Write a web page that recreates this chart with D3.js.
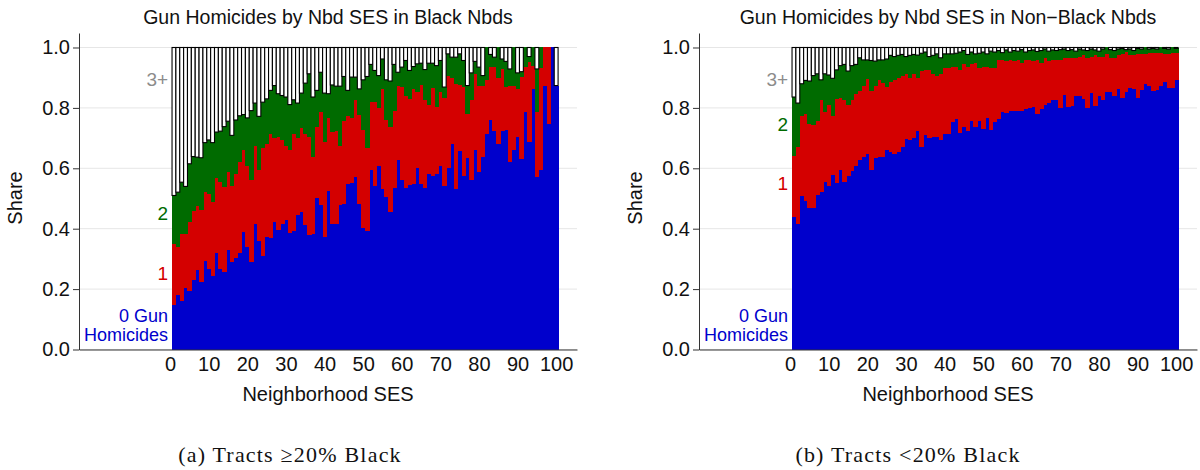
<!doctype html>
<html lang="en">
<head>
<meta charset="UTF-8">
<title>Gun Homicides by Nbd SES</title>
<script src="https://cdn.jsdelivr.net/npm/d3@7"></script>
<style>
  body { margin: 0; background: #fff; }
  svg text { font-family: "Liberation Sans", Arial, Helvetica, sans-serif; fill: #111; }
  .caption { font-family: "Liberation Serif", "DejaVu Serif", serif !important; letter-spacing: 1.2px; }
  .grid line { stroke: #e6e6e6; stroke-width: 1; }
</style>
</head>
<body>
<svg id="chart" width="1200" height="470"></svg>
<script>
// cumulative shares per SES bin (1..100)
// black nbds: share with 0 gun homicides, with <=1, with <=2
var blackZero = [0.146,0.179,0.162,0.204,0.193,0.231,0.264,0.223,0.292,0.267,0.244,0.321,0.268,0.257,0.328,0.291,0.304,0.321,0.390,0.341,0.290,0.417,0.360,0.309,0.372,
  0.370,0.421,0.396,0.414,0.429,0.385,0.391,0.445,0.456,0.411,0.379,0.382,0.500,0.478,0.372,0.526,0.415,0.415,0.478,0.483,0.549,0.552,0.570,0.482,0.403,0.392,
  0.593,0.541,0.608,0.530,0.504,0.455,0.534,0.626,0.562,0.536,0.546,0.549,0.602,0.549,0.534,0.582,0.576,0.582,0.606,0.543,0.602,0.679,0.531,0.656,0.574,
  0.635,0.562,0.661,0.589,0.637,0.714,0.760,0.725,0.681,0.725,0.727,0.620,0.661,0.705,0.630,0.788,0.687,0.863,0.571,0.596,0.871,0.747,1.000,0.874];
var blackUpTo1 = [0.348,0.341,0.383,0.383,0.422,0.460,0.474,0.462,0.521,0.515,0.488,0.568,0.554,0.538,0.587,0.543,0.582,0.620,0.659,0.606,0.560,0.674,0.593,0.668,0.679,
  0.712,0.701,0.703,0.694,0.674,0.662,0.712,0.701,0.732,0.712,0.705,0.637,0.738,0.788,0.687,0.766,0.720,0.722,0.674,0.758,0.774,0.766,0.825,0.778,0.728,0.668,
  0.819,0.821,0.800,0.863,0.760,0.738,0.791,0.874,0.869,0.838,0.830,0.863,0.852,0.877,0.825,0.808,0.865,0.802,0.852,0.833,0.904,0.898,0.880,0.877,0.869,
  0.780,0.827,0.913,0.874,0.874,0.891,0.935,0.935,0.900,0.929,0.869,0.871,0.871,0.863,0.902,0.935,0.951,0.940,0.786,0.933,1.000,1.000,1.000,0.874];
var blackUpTo2 = [0.510,0.521,0.554,0.540,0.615,0.639,0.637,0.635,0.685,0.694,0.685,0.720,0.723,0.738,0.756,0.709,0.760,0.774,0.778,0.767,0.791,0.816,0.772,0.819,0.830,
  0.858,0.874,0.847,0.841,0.836,0.811,0.827,0.816,0.849,0.882,0.913,0.836,0.858,0.918,0.849,0.847,0.876,0.872,0.872,0.904,0.858,0.902,0.902,0.863,0.893,0.904,
  0.944,0.924,0.907,0.962,0.893,0.889,0.944,0.918,0.935,0.957,0.924,0.937,0.946,0.948,0.927,0.948,0.948,0.940,0.957,0.869,0.979,0.968,0.968,0.979,0.957,
  0.874,0.916,0.954,0.935,0.907,1.000,0.977,0.968,1.000,0.962,0.954,0.929,1.000,0.916,0.920,1.000,0.970,1.000,0.929,1.000,1.000,1.000,1.000,0.874];

// non-black nbds
var otherZero = [0.438,0.416,0.507,0.493,0.469,0.469,0.510,0.521,0.554,0.540,0.579,0.551,0.593,0.556,0.576,0.590,0.606,0.628,0.639,0.648,0.595,0.635,0.637,0.639,0.659,
  0.653,0.648,0.653,0.672,0.698,0.694,0.700,0.722,0.670,0.709,0.701,0.705,0.703,0.695,0.714,0.712,0.753,0.764,0.716,0.738,0.723,0.758,0.738,0.755,0.731,0.767,
  0.727,0.753,0.762,0.788,0.783,0.789,0.791,0.791,0.789,0.797,0.799,0.802,0.780,0.797,0.808,0.816,0.825,0.825,0.799,0.844,0.802,0.805,0.841,0.838,0.830,0.799,
  0.849,0.805,0.838,0.827,0.854,0.854,0.841,0.863,0.832,0.852,0.866,0.863,0.833,0.860,0.880,0.871,0.855,0.858,0.871,0.887,0.866,0.865,0.894];
var otherUpTo1 = [0.642,0.672,0.772,0.780,0.747,0.745,0.758,0.825,0.786,0.811,0.773,0.830,0.833,0.825,0.808,0.827,0.847,0.855,0.871,0.895,0.855,0.874,0.891,0.882,0.869,
  0.885,0.893,0.900,0.907,0.913,0.900,0.913,0.900,0.921,0.924,0.926,0.913,0.907,0.911,0.933,0.933,0.937,0.935,0.926,0.944,0.935,0.946,0.948,0.933,0.937,0.935,
  0.933,0.933,0.959,0.957,0.955,0.959,0.955,0.959,0.948,0.959,0.957,0.955,0.957,0.948,0.966,0.955,0.959,0.957,0.957,0.966,0.966,0.966,0.966,0.968,0.974,0.966,
  0.970,0.974,0.968,0.970,0.977,0.966,0.966,0.974,0.979,0.985,0.974,0.974,0.977,0.979,0.979,0.981,0.981,0.981,0.981,0.979,0.979,0.981,0.981];
var otherUpTo2 = [0.836,0.816,0.880,0.891,0.889,0.907,0.913,0.893,0.913,0.909,0.898,0.926,0.940,0.944,0.922,0.940,0.944,0.966,0.959,0.959,0.957,0.955,0.959,0.959,0.962,
  0.974,0.970,0.974,0.977,0.970,0.974,0.977,0.975,0.981,0.985,0.970,0.974,0.979,0.966,0.979,0.979,0.979,0.981,0.985,0.990,0.977,0.985,0.979,0.981,0.985,0.979,
  0.988,0.985,0.990,0.983,0.992,0.985,0.990,0.988,0.993,0.985,0.990,0.992,0.987,0.990,0.995,0.988,0.992,0.990,0.993,0.995,0.990,0.993,0.988,0.995,0.992,0.990,
  0.995,0.992,0.988,0.995,1.000,0.993,0.990,0.995,0.997,0.993,0.995,0.990,0.997,0.995,1.000,0.995,0.997,0.995,1.000,0.997,0.995,1.000,0.997];

var sesBins = d3.range(1, 101);
var xTicks = d3.range(0, 101, 10);
var yTicks = [0, 0.2, 0.4, 0.6, 0.8, 1.0];

var colBlue = '#0000cc', colRed = '#d40000', colGreen = '#006b00', colGray = '#8c8c8c';

var svg = d3.select('#chart');

function panel(opt) {
  var left = opt.left, right = left + 498, top = 33, bottom = 349.5;
  var x = d3.scaleLinear().domain([-23.6, 105.4]).range([left, right]);
  var y = d3.scaleLinear().domain([0, 1.048]).range([bottom, top]);
  var g = svg.append('g');

  // grid
  g.append('g').attr('class', 'grid')
    .selectAll('line').data(yTicks).join('line')
    .attr('x1', left).attr('x2', right)
    .attr('y1', function(d) { return y(d); }).attr('y2', function(d) { return y(d); });

  // stacked layers
  var layers = [
    { lo: sesBins.map(function() { return 0; }), hi: opt.zero, fill: colBlue },
    { lo: opt.zero, hi: opt.one, fill: colRed },
    { lo: opt.one, hi: opt.two, fill: colGreen }
  ];
  layers.forEach(function(L) {
    g.append('g').attr('shape-rendering', 'crispEdges')
      .selectAll('rect').data(sesBins).join('rect')
      .attr('x', function(d) { return x(d - 0.5); })
      .attr('width', function(d) { return x(d + 0.5) - x(d - 0.5) + 0.6; })
      .attr('y', function(d, i) { return y(L.hi[i]); })
      .attr('height', function(d, i) { return Math.max(0, y(L.lo[i]) - y(L.hi[i])); })
      .attr('fill', L.fill);
  });
  // 3+ : white bars with black outline
  g.append('g').selectAll('rect').data(sesBins.filter(function(d, i) { return opt.two[i] < 0.999; })).join('rect')
    .attr('x', function(d) { return x(d - 0.5); })
    .attr('width', function(d) { return x(d + 0.5) - x(d - 0.5); })
    .attr('y', y(1))
    .attr('height', function(d) { return y(opt.two[d - 1]) - y(1); })
    .attr('fill', '#fff').attr('stroke', '#000').attr('stroke-width', 1.1);

  // axes
  var ya = g.append('g').attr('transform', 'translate(' + left + ',0)')
    .call(d3.axisLeft(y).tickValues(yTicks).tickFormat(d3.format('.1f')).tickSize(6).tickSizeOuter(0).tickPadding(3));
  var xa = g.append('g').attr('transform', 'translate(0,' + bottom + ')')
    .call(d3.axisBottom(x).tickValues(xTicks).tickSize(0).tickSizeOuter(0).tickPadding(7));
  [ya, xa].forEach(function(a) {
    a.selectAll('text').style('font-size', '20px').attr('fill', '#111');
    a.selectAll('path, line').attr('stroke', '#333');
  });

  // titles (centred over the plot region)
  g.append('text').attr('x', (left + right) / 2).attr('y', 24).attr('text-anchor', 'middle')
    .style('font-size', '19.5px').text(opt.title);
  g.append('text').attr('x', (left + right) / 2).attr('y', 401).attr('text-anchor', 'middle')
    .style('font-size', '20px').text('Neighborhood SES');
  g.append('text').attr('transform', 'translate(' + (left - 57) + ',' + 198 + ') rotate(-90)')
    .attr('text-anchor', 'middle').style('font-size', '20px').text('Share');
  g.append('text').attr('class', 'caption').attr('x', opt.capX).attr('y', 462).attr('text-anchor', 'middle')
    .style('font-size', '22px').text(opt.caption);

  // category labels
  var lx = x(0) - 2;
  var labs = [
    { t: '3+', v: 0.895, c: colGray },
    { t: '2', v: opt.lab2, c: colGreen },
    { t: '1', v: opt.lab1, c: colRed }
  ];
  labs.forEach(function(l) {
    g.append('text').attr('x', lx).attr('y', y(l.v) + 7).attr('text-anchor', 'end')
      .style('font-size', '19px').style('fill', l.c).text(l.t);
  });
  g.append('text').attr('x', lx).attr('y', 322).attr('text-anchor', 'end')
    .style('font-size', '18px').style('fill', colBlue).text('0 Gun');
  g.append('text').attr('x', lx).attr('y', 341).attr('text-anchor', 'end')
    .style('font-size', '18px').style('fill', colBlue).text('Homicides');
}

panel({ left: 79, zero: blackZero, one: blackUpTo1, two: blackUpTo2,
  title: 'Gun Homicides by Nbd SES in Black Nbds',
  caption: '(a) Tracts \u226520% Black', capX: 290, lab2: 0.452, lab1: 0.253 });
panel({ left: 699, zero: otherZero, one: otherUpTo1, two: otherUpTo2,
  title: 'Gun Homicides by Nbd SES in Non\u2212Black Nbds',
  caption: '(b) Tracts <20% Black', capX: 908, lab2: 0.746, lab1: 0.551 });
</script>
</body>
</html>
